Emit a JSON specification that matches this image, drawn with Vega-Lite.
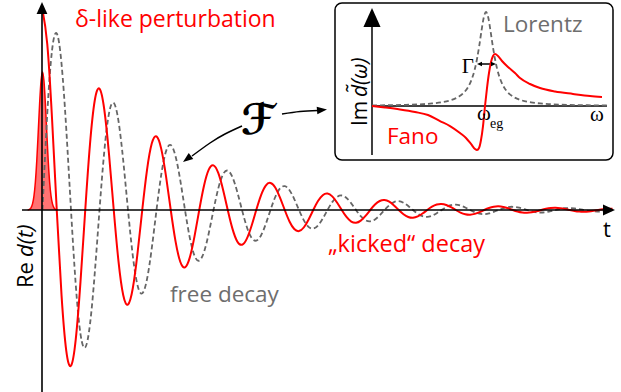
{
"$schema": "https://vega.github.io/schema/vega-lite/v6.json",
"width": 621, "height": 392, "autosize": {"type": "none"}, "padding": 0,
"background": "white",
"config": {"view": {"stroke": null}},
"resolve": {"scale": {"x": "independent", "y": "independent"}},
"datasets": {
"gauss": [{"t":-0.26,"v":0},{"t":-0.225,"v":0.0039},{"t":-0.2,"v":0.0117},{"t":-0.175,"v":0.0303},{"t":-0.15,"v":0.0695},{"t":-0.125,"v":0.14},{"t":-0.1,"v":0.248},{"t":-0.075,"v":0.388},{"t":-0.05,"v":0.535},{"t":-0.025,"v":0.647},{"t":0,"v":0.69},{"t":0.025,"v":0.647},{"t":0.05,"v":0.535},{"t":0.075,"v":0.388},{"t":0.1,"v":0.248},{"t":0.125,"v":0.14},{"t":0.15,"v":0.0695},{"t":0.175,"v":0.0303},{"t":0.2,"v":0.0117},{"t":0.225,"v":0.0039},{"t":0.26,"v":0}],
"decay": [
{"t":0,"red":1,"gray":0},{"t":0.0833,"red":0.8307,"gray":0.4796},{"t":0.1667,"red":0.46,"gray":0.7967},{"t":0.25,"red":0,"gray":0.8825},{"t":0.3333,"red":-0.4233,"gray":0.7331},{"t":0.4167,"red":-0.7031,"gray":0.406},{"t":0.5,"red":-0.7788,"gray":0},{"t":0.5833,"red":-0.6469,"gray":-0.3735},{"t":0.6667,"red":-0.3583,"gray":-0.6205},{"t":0.75,"red":0,"gray":-0.6873},{"t":0.8333,"red":0.3296,"gray":-0.5709},{"t":0.9167,"red":0.5476,"gray":-0.3162},
{"t":1,"red":0.6065,"gray":0},{"t":1.0833,"red":0.5038,"gray":0.2909},{"t":1.1667,"red":0.279,"gray":0.4832},{"t":1.25,"red":0,"gray":0.5352},{"t":1.3333,"red":-0.2567,"gray":0.4446},{"t":1.4167,"red":-0.4264,"gray":0.2462},{"t":1.5,"red":-0.4723,"gray":0},{"t":1.5833,"red":-0.3923,"gray":-0.2265},{"t":1.6667,"red":-0.2173,"gray":-0.3763},{"t":1.75,"red":0,"gray":-0.4168},{"t":1.8333,"red":0.1999,"gray":-0.3462},{"t":1.9167,"red":0.3321,"gray":-0.1918},
{"t":2,"red":0.3679,"gray":0},{"t":2.0833,"red":0.3056,"gray":0.1764},{"t":2.1667,"red":0.1692,"gray":0.2931},{"t":2.25,"red":0,"gray":0.3247},{"t":2.3333,"red":-0.1557,"gray":0.2697},{"t":2.4167,"red":-0.2587,"gray":0.1494},{"t":2.5,"red":-0.2865,"gray":0},{"t":2.5833,"red":-0.238,"gray":-0.1374},{"t":2.6667,"red":-0.1318,"gray":-0.2283},{"t":2.75,"red":0,"gray":-0.2529},{"t":2.8333,"red":0.1213,"gray":-0.21},{"t":2.9167,"red":0.2015,"gray":-0.1163},
{"t":3,"red":0.2231,"gray":0},{"t":3.0833,"red":0.1853,"gray":0.107},{"t":3.1667,"red":0.1026,"gray":0.1777},{"t":3.25,"red":0,"gray":0.1969},{"t":3.3333,"red":-0.0944,"gray":0.1636},{"t":3.4167,"red":-0.1569,"gray":0.0906},{"t":3.5,"red":-0.1737,"gray":0},{"t":3.5833,"red":-0.1443,"gray":-0.0833},{"t":3.6667,"red":-0.0799,"gray":-0.1384},{"t":3.75,"red":0,"gray":-0.1533},{"t":3.8333,"red":0.0735,"gray":-0.1274},{"t":3.9167,"red":0.1222,"gray":-0.0705},
{"t":4,"red":0.1353,"gray":0},{"t":4.0833,"red":0.1124,"gray":0.0649},{"t":4.1667,"red":0.0622,"gray":0.1078},{"t":4.25,"red":0,"gray":0.1194},{"t":4.3333,"red":-0.0573,"gray":0.0992},{"t":4.4167,"red":-0.0951,"gray":0.0549},{"t":4.5,"red":-0.1054,"gray":0},{"t":4.5833,"red":-0.0875,"gray":-0.0505},{"t":4.6667,"red":-0.0485,"gray":-0.084},{"t":4.75,"red":0,"gray":-0.093},{"t":4.8333,"red":0.0446,"gray":-0.0772},{"t":4.9167,"red":0.0741,"gray":-0.0428},
{"t":5,"red":0.0821,"gray":0},{"t":5.0833,"red":0.0682,"gray":0.0394},{"t":5.1667,"red":0.0378,"gray":0.0654},{"t":5.25,"red":0,"gray":0.0725},{"t":5.3333,"red":-0.0348,"gray":0.0602},{"t":5.4167,"red":-0.0577,"gray":0.0333},{"t":5.5,"red":-0.0639,"gray":0},{"t":5.5833,"red":-0.0531,"gray":-0.0307},{"t":5.6667,"red":-0.0294,"gray":-0.0509},{"t":5.75,"red":0,"gray":-0.0564},{"t":5.8333,"red":0.0271,"gray":-0.0469},{"t":5.9167,"red":0.045,"gray":-0.026},
{"t":6,"red":0.0498,"gray":0},{"t":6.0833,"red":0.0414,"gray":0.0239},{"t":6.1667,"red":0.0229,"gray":0.0397},{"t":6.25,"red":0,"gray":0.0439},{"t":6.3333,"red":-0.0211,"gray":0.0365},{"t":6.4167,"red":-0.035,"gray":0.0202},{"t":6.5,"red":-0.0388,"gray":0},{"t":6.5833,"red":-0.0322,"gray":-0.0186},{"t":6.6667,"red":-0.0178,"gray":-0.0309},{"t":6.75,"red":0,"gray":-0.0342},{"t":6.8333,"red":0.0164,"gray":-0.0284},{"t":6.9167,"red":0.0273,"gray":-0.0157},
{"t":7,"red":0.0302,"gray":0},{"t":7.0833,"red":0.0251,"gray":0.0145},{"t":7.1667,"red":0.0139,"gray":0.0241},{"t":7.25,"red":0,"gray":0.0267},{"t":7.3333,"red":-0.0128,"gray":0.0221},{"t":7.4167,"red":-0.0212,"gray":0.0123},{"t":7.5,"red":-0.0235,"gray":0},{"t":7.5833,"red":-0.0195,"gray":-0.0113},{"t":7.6667,"red":-0.0108,"gray":-0.0187},{"t":7.75,"red":0,"gray":-0.0208},{"t":7.8333,"red":0.01,"gray":-0.0172},{"t":7.9167,"red":0.0165,"gray":-0.0095},
{"t":8,"red":0.0183,"gray":0},{"t":8.0833,"red":0.0152,"gray":0.0088},{"t":8.1667,"red":0.0084,"gray":0.0146},{"t":8.25,"red":0,"gray":0.0161},{"t":8.3333,"red":-0.0077,"gray":0.0134},{"t":8.4167,"red":-0.0129,"gray":0.0074},{"t":8.5,"red":-0.0143,"gray":0},{"t":8.5833,"red":-0.0118,"gray":-0.0068},{"t":8.6667,"red":-0.0066,"gray":-0.0114},{"t":8.75,"red":0,"gray":-0.0126},{"t":8.8333,"red":0.006,"gray":-0.0104},{"t":8.9167,"red":0.01,"gray":-0.0058},
{"t":9,"red":0.0111,"gray":0},{"t":9.0833,"red":0.0092,"gray":0.0053},{"t":9.1667,"red":0.0051,"gray":0.0088},{"t":9.25,"red":0,"gray":0.0098},{"t":9.3333,"red":-0.0047,"gray":0.0081},{"t":9.4167,"red":-0.0078,"gray":0.0045},{"t":9.5,"red":-0.0086,"gray":0},{"t":9.5833,"red":-0.0072,"gray":-0.0041},{"t":9.6667,"red":-0.004,"gray":-0.0069},{"t":9.75,"red":0,"gray":-0.0076},{"t":9.8333,"red":0.0037,"gray":-0.0063},{"t":9.9167,"red":0.0061,"gray":-0.0035},
{"t":10,"red":0.0067,"gray":0}],
"axes": [{"t1":-0.3596,"v1":0,"t2":9.8509,"v2":0},{"t1":-0.0088,"v1":-0.91,"t2":-0.0088,"v2":0.985}],
"upArrow": [{"t":-0.0088,"v":1.01}],
"rightArrow": [{"t":9.9386,"v":0}],
"farrows": [{"id":"a","t":3.5,"v":0.42},{"id":"a","t":3.2018,"v":0.38},{"id":"a","t":2.9386,"v":0.335},{"id":"a","t":2.6228,"v":0.27},{"id":"b","t":4.2018,"v":0.48},{"id":"b","t":4.5175,"v":0.4925},{"id":"b","t":4.8333,"v":0.4975}],
"headA": [{"t":2.5351,"v":0.255}],
"headB": [{"t":4.9035,"v":0.5}],
"deltaText": [{"t":0.5702,"v":0.915,"label":"δ-like perturbation"}],
"redText": [{"t":5.0088,"v":-0.21,"label":"„kicked“ decay"}],
"grayText": [{"t":2.2368,"v":-0.46,"label":"free decay"}],
"tText": [{"t":9.8333,"v":-0.135,"label":"t"}],
"fText": [{"t":3.7807,"v":0.445,"label":"ℱ"}],
"reText": [{"t":-0.1667,"v":-0.39,"label":"Re"}],
"dtText": [{"t":-0.1667,"v":-0.235,"label":"d(t)"}],
"box": [{"w1":-16.778,"w2":14.111,"s1":1.0957,"s2":-0.5745}],
"lorentz": [{"w":-12.667,"s":0.0062},{"w":-11,"s":0.0082},{"w":-9,"s":0.0122},{"w":-7,"s":0.02},{"w":-6,"s":0.027},{"w":-5,"s":0.0385},{"w":-4,"s":0.0588},{"w":-3.5,"s":0.0755},{"w":-3,"s":0.1},{"w":-2.5,"s":0.1379},{"w":-2,"s":0.2},{"w":-1.75,"s":0.2462},{"w":-1.5,"s":0.3077},{"w":-1.25,"s":0.3902},{"w":-1,"s":0.5},{"w":-0.75,"s":0.64},{"w":-0.5,"s":0.8},{"w":-0.25,"s":0.9412},{"w":0,"s":1},{"w":0.25,"s":0.9412},{"w":0.5,"s":0.8},{"w":0.75,"s":0.64},{"w":1,"s":0.5},{"w":1.25,"s":0.3902},{"w":1.5,"s":0.3077},{"w":1.75,"s":0.2462},{"w":2,"s":0.2},{"w":2.5,"s":0.1379},{"w":3,"s":0.1},{"w":3.5,"s":0.0755},{"w":4,"s":0.0588},{"w":5,"s":0.0385},{"w":6,"s":0.027},{"w":7,"s":0.02},{"w":9,"s":0.0122},{"w":11,"s":0.0082},{"w":13.444,"s":0.0055}],
"fano": [{"w":-12.667,"s":0},{"w":-11.222,"s":-0.016},{"w":-9.556,"s":-0.037},{"w":-7.889,"s":-0.064},{"w":-6.444,"s":-0.096},{"w":-5.111,"s":-0.16},{"w":-4,"s":-0.213},{"w":-2.889,"s":-0.287},{"w":-2.222,"s":-0.34},{"w":-1.667,"s":-0.404},{"w":-1.222,"s":-0.457},{"w":-1,"s":-0.468},{"w":-0.778,"s":-0.447},{"w":-0.556,"s":-0.362},{"w":-0.333,"s":-0.213},{"w":-0.111,"s":0},{"w":0.111,"s":0.191},{"w":0.333,"s":0.351},{"w":0.556,"s":0.468},{"w":0.778,"s":0.532},{"w":1,"s":0.553},{"w":1.333,"s":0.532},{"w":1.778,"s":0.479},{"w":2.444,"s":0.415},{"w":3.222,"s":0.351},{"w":3.778,"s":0.298},{"w":4.889,"s":0.234},{"w":6,"s":0.191},{"w":7.667,"s":0.154},{"w":9.667,"s":0.128},{"w":11.556,"s":0.106},{"w":12.889,"s":0.096}],
"iaxes": [{"w1":-12.667,"s1":-0.5213,"w2":-12.667,"s2":0.87},{"w1":-12.667,"s1":0,"w2":13.444,"s2":0},{"w1":-0.75,"s1":0.4468,"w2":0.8,"s2":0.4468}],
"iUp": [{"w":-12.667,"s":0.9415}],
"gLeft": [{"w":-0.7222,"s":0.4468}],
"gRight": [{"w":0.8333,"s":0.4468}],
"lorText": [{"w":1.8889,"s":0.7872,"label":"Lorentz"}],
"fanoText": [{"w":-11,"s":-0.4043,"label":"Fano"}],
"gammaText": [{"w":-1.3333,"s":0.3511,"label":"Γ"}],
"omegaText": [{"w":-1,"s":-0.1489,"label":"ω"},{"w":11.5556,"s":-0.1596,"label":"ω"}],
"egText": [{"w":0.4444,"s":-0.234,"label":"eg"}],
"imText": [{"w":-13.222,"s":-0.2128,"label":"Im"}],
"dwText": [{"w":-13.222,"s":0.0957,"label":"d̃(ω)"}]
},
"layer": [
{"data":{"name":"gauss"},"mark":{"type":"area","interpolate":"monotone","fill":"#ff0000","fillOpacity":0.55,"line":{"color":"#ff0000","strokeWidth":1.5}},
 "encoding":{"x":{"field":"t","type":"quantitative","scale":{"domain":[-0.7456,10.1491],"nice":false,"zero":false},"axis":null},
 "y":{"field":"v","type":"quantitative","scale":{"domain":[-0.91,1.05],"nice":false,"zero":false},"axis":null},"y2":{"datum":0}}},
{"data":{"name":"decay"},"mark":{"type":"line","interpolate":"natural","color":"#666666","strokeWidth":1.8,"strokeDash":[5,3]},
 "encoding":{"x":{"field":"t","type":"quantitative","scale":{"domain":[-0.7456,10.1491],"nice":false,"zero":false},"axis":null},
 "y":{"field":"gray","type":"quantitative","scale":{"domain":[-0.91,1.05],"nice":false,"zero":false},"axis":null}}},
{"data":{"name":"decay"},"mark":{"type":"line","interpolate":"natural","color":"#ff0000","strokeWidth":2}, 
 "encoding":{"x":{"field":"t","type":"quantitative","scale":{"domain":[-0.7456,10.1491],"nice":false,"zero":false},"axis":null},
 "y":{"field":"red","type":"quantitative","scale":{"domain":[-0.91,1.05],"nice":false,"zero":false},"axis":null}}},
{"data":{"name":"axes"},"mark":{"type":"rule","color":"black","strokeWidth":1.6},
 "encoding":{"x":{"field":"t1","type":"quantitative","scale":{"domain":[-0.7456,10.1491],"nice":false,"zero":false},"axis":null},"x2":{"field":"t2"},
 "y":{"field":"v1","type":"quantitative","scale":{"domain":[-0.91,1.05],"nice":false,"zero":false},"axis":null},"y2":{"field":"v2"}}},
{"data":{"name":"upArrow"},"mark":{"type":"point","shape":"M0,-1L-0.9,1L0.9,1Z","filled":true,"color":"black","opacity":1,"size":144},
 "encoding":{"x":{"field":"t","type":"quantitative","scale":{"domain":[-0.7456,10.1491],"nice":false,"zero":false},"axis":null},
 "y":{"field":"v","type":"quantitative","scale":{"domain":[-0.91,1.05],"nice":false,"zero":false},"axis":null}}},
{"data":{"name":"rightArrow"},"mark":{"type":"point","shape":"M1,0L-1,-0.9L-1,0.9Z","filled":true,"color":"black","opacity":1,"size":144},
 "encoding":{"x":{"field":"t","type":"quantitative","scale":{"domain":[-0.7456,10.1491],"nice":false,"zero":false},"axis":null},
 "y":{"field":"v","type":"quantitative","scale":{"domain":[-0.91,1.05],"nice":false,"zero":false},"axis":null}}},
{"data":{"name":"farrows"},"mark":{"type":"line","interpolate":"natural","color":"black","strokeWidth":1.5},
 "encoding":{"x":{"field":"t","type":"quantitative","scale":{"domain":[-0.7456,10.1491],"nice":false,"zero":false},"axis":null},
 "y":{"field":"v","type":"quantitative","scale":{"domain":[-0.91,1.05],"nice":false,"zero":false},"axis":null},"detail":{"field":"id"}}},
{"data":{"name":"headA"},"mark":{"type":"point","shape":"M1,0L-1,-0.75L-1,0.75Z","filled":true,"color":"black","opacity":1,"size":100,"angle":143},
 "encoding":{"x":{"field":"t","type":"quantitative","scale":{"domain":[-0.7456,10.1491],"nice":false,"zero":false},"axis":null},
 "y":{"field":"v","type":"quantitative","scale":{"domain":[-0.91,1.05],"nice":false,"zero":false},"axis":null}}},
{"data":{"name":"headB"},"mark":{"type":"point","shape":"M1,0L-1,-0.75L-1,0.75Z","filled":true,"color":"black","opacity":1,"size":100,"angle":355},
 "encoding":{"x":{"field":"t","type":"quantitative","scale":{"domain":[-0.7456,10.1491],"nice":false,"zero":false},"axis":null},
 "y":{"field":"v","type":"quantitative","scale":{"domain":[-0.91,1.05],"nice":false,"zero":false},"axis":null}}},
{"data":{"name":"deltaText"},"mark":{"type":"text","align":"left","baseline":"alphabetic","font":"Open Sans","fontSize":23,"color":"#ff0000"},
 "encoding":{"x":{"field":"t","type":"quantitative","scale":{"domain":[-0.7456,10.1491],"nice":false,"zero":false},"axis":null},
 "y":{"field":"v","type":"quantitative","scale":{"domain":[-0.91,1.05],"nice":false,"zero":false},"axis":null},"text":{"field":"label"}}},
{"data":{"name":"redText"},"mark":{"type":"text","align":"left","baseline":"alphabetic","font":"Open Sans","fontSize":23.5,"color":"#ff0000"},
 "encoding":{"x":{"field":"t","type":"quantitative","scale":{"domain":[-0.7456,10.1491],"nice":false,"zero":false},"axis":null},
 "y":{"field":"v","type":"quantitative","scale":{"domain":[-0.91,1.05],"nice":false,"zero":false},"axis":null},"text":{"field":"label"}}},
{"data":{"name":"grayText"},"mark":{"type":"text","align":"left","baseline":"alphabetic","font":"Open Sans","fontSize":22.5,"color":"#6e6e6e"},
 "encoding":{"x":{"field":"t","type":"quantitative","scale":{"domain":[-0.7456,10.1491],"nice":false,"zero":false},"axis":null},
 "y":{"field":"v","type":"quantitative","scale":{"domain":[-0.91,1.05],"nice":false,"zero":false},"axis":null},"text":{"field":"label"}}},
{"data":{"name":"tText"},"mark":{"type":"text","align":"left","baseline":"alphabetic","font":"Open Sans","fontSize":22,"color":"black"},
 "encoding":{"x":{"field":"t","type":"quantitative","scale":{"domain":[-0.7456,10.1491],"nice":false,"zero":false},"axis":null},
 "y":{"field":"v","type":"quantitative","scale":{"domain":[-0.91,1.05],"nice":false,"zero":false},"axis":null},"text":{"field":"label"}}},
{"data":{"name":"fText"},"mark":{"type":"text","align":"center","baseline":"middle","font":"DejaVu Sans","fontSize":42,"fontWeight":"bold","color":"black"},
 "encoding":{"x":{"field":"t","type":"quantitative","scale":{"domain":[-0.7456,10.1491],"nice":false,"zero":false},"axis":null},
 "y":{"field":"v","type":"quantitative","scale":{"domain":[-0.91,1.05],"nice":false,"zero":false},"axis":null},"text":{"field":"label"}}},
{"data":{"name":"reText"},"mark":{"type":"text","align":"left","baseline":"alphabetic","angle":270,"font":"Open Sans","fontSize":22,"color":"black"},
 "encoding":{"x":{"field":"t","type":"quantitative","scale":{"domain":[-0.7456,10.1491],"nice":false,"zero":false},"axis":null},
 "y":{"field":"v","type":"quantitative","scale":{"domain":[-0.91,1.05],"nice":false,"zero":false},"axis":null},"text":{"field":"label"}}},
{"data":{"name":"dtText"},"mark":{"type":"text","align":"left","baseline":"alphabetic","angle":270,"font":"Open Sans","fontSize":22,"fontStyle":"italic","color":"black"},
 "encoding":{"x":{"field":"t","type":"quantitative","scale":{"domain":[-0.7456,10.1491],"nice":false,"zero":false},"axis":null},
 "y":{"field":"v","type":"quantitative","scale":{"domain":[-0.91,1.05],"nice":false,"zero":false},"axis":null},"text":{"field":"label"}}},
{"data":{"name":"box"},"mark":{"type":"rect","fill":"white","stroke":"black","strokeWidth":1.5,"cornerRadius":7},
 "encoding":{"x":{"field":"w1","type":"quantitative","scale":{"domain":[-54,15],"nice":false,"zero":false},"axis":null},"x2":{"field":"w2"},
 "y":{"field":"s1","type":"quantitative","scale":{"domain":[-3.0426,1.1277],"nice":false,"zero":false},"axis":null},"y2":{"field":"s2"}}},
{"data":{"name":"iaxes"},"mark":{"type":"rule","color":"black","strokeWidth":1.5},
 "encoding":{"x":{"field":"w1","type":"quantitative","scale":{"domain":[-54,15],"nice":false,"zero":false},"axis":null},"x2":{"field":"w2"},
 "y":{"field":"s1","type":"quantitative","scale":{"domain":[-3.0426,1.1277],"nice":false,"zero":false},"axis":null},"y2":{"field":"s2"}}},
{"data":{"name":"lorentz"},"mark":{"type":"line","interpolate":"monotone","color":"#666666","strokeWidth":1.8,"strokeDash":[5,3]},
 "encoding":{"x":{"field":"w","type":"quantitative","scale":{"domain":[-54,15],"nice":false,"zero":false},"axis":null},
 "y":{"field":"s","type":"quantitative","scale":{"domain":[-3.0426,1.1277],"nice":false,"zero":false},"axis":null}}},
{"data":{"name":"fano"},"mark":{"type":"line","interpolate":"monotone","color":"#ff0000","strokeWidth":2},
 "encoding":{"x":{"field":"w","type":"quantitative","scale":{"domain":[-54,15],"nice":false,"zero":false},"axis":null},
 "y":{"field":"s","type":"quantitative","scale":{"domain":[-3.0426,1.1277],"nice":false,"zero":false},"axis":null}}},
{"data":{"name":"iUp"},"mark":{"type":"point","shape":"M0,-1L-0.9,1L0.9,1Z","filled":true,"color":"black","opacity":1,"size":361},
 "encoding":{"x":{"field":"w","type":"quantitative","scale":{"domain":[-54,15],"nice":false,"zero":false},"axis":null},
 "y":{"field":"s","type":"quantitative","scale":{"domain":[-3.0426,1.1277],"nice":false,"zero":false},"axis":null}}},
{"data":{"name":"gLeft"},"mark":{"type":"point","shape":"M-1,0L1,-0.9L1,0.9Z","filled":true,"color":"black","opacity":1,"size":25},
 "encoding":{"x":{"field":"w","type":"quantitative","scale":{"domain":[-54,15],"nice":false,"zero":false},"axis":null},
 "y":{"field":"s","type":"quantitative","scale":{"domain":[-3.0426,1.1277],"nice":false,"zero":false},"axis":null}}},
{"data":{"name":"gRight"},"mark":{"type":"point","shape":"M1,0L-1,-0.9L-1,0.9Z","filled":true,"color":"black","opacity":1,"size":25},
 "encoding":{"x":{"field":"w","type":"quantitative","scale":{"domain":[-54,15],"nice":false,"zero":false},"axis":null},
 "y":{"field":"s","type":"quantitative","scale":{"domain":[-3.0426,1.1277],"nice":false,"zero":false},"axis":null}}},
{"data":{"name":"lorText"},"mark":{"type":"text","align":"left","baseline":"alphabetic","font":"Open Sans","fontSize":22.5,"color":"#6e6e6e"},
 "encoding":{"x":{"field":"w","type":"quantitative","scale":{"domain":[-54,15],"nice":false,"zero":false},"axis":null},
 "y":{"field":"s","type":"quantitative","scale":{"domain":[-3.0426,1.1277],"nice":false,"zero":false},"axis":null},"text":{"field":"label"}}},
{"data":{"name":"fanoText"},"mark":{"type":"text","align":"left","baseline":"alphabetic","font":"Open Sans","fontSize":22.5,"color":"#ff0000"},
 "encoding":{"x":{"field":"w","type":"quantitative","scale":{"domain":[-54,15],"nice":false,"zero":false},"axis":null},
 "y":{"field":"s","type":"quantitative","scale":{"domain":[-3.0426,1.1277],"nice":false,"zero":false},"axis":null},"text":{"field":"label"}}},
{"data":{"name":"gammaText"},"mark":{"type":"text","align":"right","baseline":"alphabetic","font":"Liberation Serif","fontSize":21,"color":"black"},
 "encoding":{"x":{"field":"w","type":"quantitative","scale":{"domain":[-54,15],"nice":false,"zero":false},"axis":null},
 "y":{"field":"s","type":"quantitative","scale":{"domain":[-3.0426,1.1277],"nice":false,"zero":false},"axis":null},"text":{"field":"label"}}},
{"data":{"name":"omegaText"},"mark":{"type":"text","align":"left","baseline":"alphabetic","font":"Liberation Serif","fontSize":21,"color":"black"},
 "encoding":{"x":{"field":"w","type":"quantitative","scale":{"domain":[-54,15],"nice":false,"zero":false},"axis":null},
 "y":{"field":"s","type":"quantitative","scale":{"domain":[-3.0426,1.1277],"nice":false,"zero":false},"axis":null},"text":{"field":"label"}}},
{"data":{"name":"egText"},"mark":{"type":"text","align":"left","baseline":"alphabetic","font":"Liberation Serif","fontSize":14,"color":"black"},
 "encoding":{"x":{"field":"w","type":"quantitative","scale":{"domain":[-54,15],"nice":false,"zero":false},"axis":null},
 "y":{"field":"s","type":"quantitative","scale":{"domain":[-3.0426,1.1277],"nice":false,"zero":false},"axis":null},"text":{"field":"label"}}},
{"data":{"name":"imText"},"mark":{"type":"text","align":"left","baseline":"alphabetic","angle":270,"font":"Open Sans","fontSize":21,"color":"black"},
 "encoding":{"x":{"field":"w","type":"quantitative","scale":{"domain":[-54,15],"nice":false,"zero":false},"axis":null},
 "y":{"field":"s","type":"quantitative","scale":{"domain":[-3.0426,1.1277],"nice":false,"zero":false},"axis":null},"text":{"field":"label"}}},
{"data":{"name":"dwText"},"mark":{"type":"text","align":"left","baseline":"alphabetic","angle":270,"font":"Open Sans","fontSize":21,"fontStyle":"italic","color":"black"},
 "encoding":{"x":{"field":"w","type":"quantitative","scale":{"domain":[-54,15],"nice":false,"zero":false},"axis":null},
 "y":{"field":"s","type":"quantitative","scale":{"domain":[-3.0426,1.1277],"nice":false,"zero":false},"axis":null},"text":{"field":"label"}}}
]
}
